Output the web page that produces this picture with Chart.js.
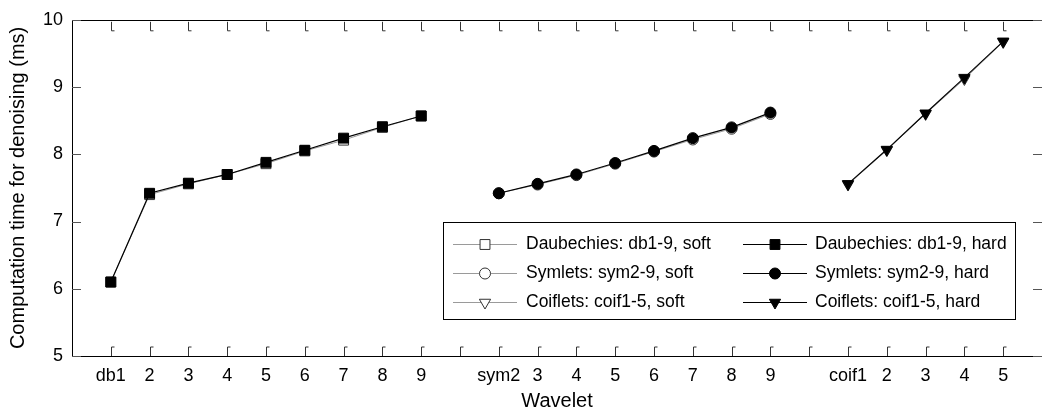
<!DOCTYPE html>
<html lang="en">
<head>
<meta charset="utf-8">
<title>Computation time for denoising</title>
<script src="https://cdn.jsdelivr.net/npm/chart.js@4/dist/chart.umd.min.js"></script>
<style>
  html, body { margin: 0; padding: 0; background: #fff; overflow: hidden; }
  #wrap { width: 1050px; height: 416px; }
</style>
</head>
<body>
<div id="wrap"><canvas id="timing" width="1050" height="416"></canvas></div>
<script>
// wavelet axis labels, the blanks keep the three families apart
const xLabels = ['db1', '2', '3', '4', '5', '6', '7', '8', '9', '',
                 'sym2', '3', '4', '5', '6', '7', '8', '9', '',
                 'coif1', '2', '3', '4', '5'];

// axis slot of the first member of each family
const dbStart = 1;
const symStart = 11;
const coifStart = 20;

// computation time (ms)
const dbSoft = [6.10, 7.40, 7.56, 7.70, 7.86, 8.05, 8.21, 8.40, 8.57];
const dbHard = [6.10, 7.42, 7.57, 7.70, 7.88, 8.06, 8.24, 8.41, 8.57];
const symSoft = [7.42, 7.55, 7.69, 7.86, 8.04, 8.22, 8.38, 8.60];
const symHard = [7.42, 7.56, 7.70, 7.87, 8.05, 8.24, 8.40, 8.62];
const coifSoft = [7.55, 8.06, 8.60, 9.12, 9.67];
const coifHard = [7.56, 8.07, 8.61, 9.14, 9.68];

const yTicks = [5, 6, 7, 8, 9, 10];

const toPoints = (start, values) => values.map((v, i) => ({ x: start + i, y: v }));

const soft = (label, start, values, pointStyle, extra = {}) => ({
    label, data: toPoints(start, values), order: 1,
    borderColor: '#9a9a9a', borderWidth: 1,
    pointStyle, pointRadius: 6, pointBorderColor: '#333', pointBackgroundColor: '#fff', pointBorderWidth: 1,
    ...extra
});
const hard = (label, start, values, pointStyle, extra = {}) => ({
    label, data: toPoints(start, values), order: 0,
    borderColor: '#000', borderWidth: 1.2,
    pointStyle, pointRadius: 6, pointBorderColor: '#000', pointBackgroundColor: '#000', pointBorderWidth: 1,
    ...extra
});

const datasets = [
    soft('Daubechies: db1-9, soft', dbStart, dbSoft, 'rect', { pointRadius: 7 }),
    soft('Symlets: sym2-9, soft', symStart, symSoft, 'circle', { pointRadius: 5.5 }),
    soft('Coiflets: coif1-5, soft', coifStart, coifSoft, 'triangle', { pointRadius: 6.5, pointRotation: 180 }),
    hard('Daubechies: db1-9, hard', dbStart, dbHard, 'rect', { pointRadius: 7 }),
    hard('Symlets: sym2-9, hard', symStart, symHard, 'circle', { pointRadius: 5.5 }),
    hard('Coiflets: coif1-5, hard', coifStart, coifHard, 'triangle', { pointRadius: 6.5, pointRotation: 180 }),
];

// closed box with inward ticks on all four sides
const boxAxes = {
    id: 'boxAxes',
    beforeDatasetsDraw(chart) {
        const { ctx, chartArea: a, scales: { x, y } } = chart;
        ctx.save();
        ctx.strokeStyle = '#000';
        ctx.lineWidth = 1;
        ctx.strokeRect(Math.round(a.left) + 0.5, Math.round(a.top) + 0.5,
            Math.round(a.right - a.left), Math.round(a.bottom - a.top));
        ctx.strokeStyle = '#333';
        x.ticks.forEach(t => {
            const px = Math.round(x.getPixelForValue(t.value)) + 0.5;
            ctx.beginPath();
            ctx.moveTo(px, a.bottom);
            ctx.lineTo(px, a.bottom - 9);
            ctx.lineTo(px + 3, a.bottom - 9);
            ctx.moveTo(px, a.top + 2);
            ctx.lineTo(px, a.top + 11);
            ctx.lineTo(px + 3, a.top + 11);
            ctx.stroke();
        });
        ctx.strokeStyle = '#555';
        y.ticks.forEach(t => {
            const py = Math.round(y.getPixelForValue(t.value)) + 0.5;
            ctx.beginPath();
            ctx.moveTo(a.left, py);
            ctx.lineTo(a.left + 9, py);
            ctx.moveTo(a.right - 9, py);
            ctx.lineTo(a.right, py);
            ctx.stroke();
        });
        ctx.restore();
    }
};

// two-column legend box inside the plot
const boxLegend = {
    id: 'boxLegend',
    afterDatasetsDraw(chart) {
        const ctx = chart.ctx;
        const ds = chart.data.datasets;
        const box = { left: 443, top: 222, width: 572, height: 97 };
        const rows = [244, 273, 302];
        const cols = [
            { from: 453, to: 517, text: 526 },
            { from: 743, to: 807, text: 815 }
        ];
        ctx.save();
        ctx.fillStyle = '#fff';
        ctx.fillRect(box.left, box.top, box.width, box.height);
        ctx.strokeStyle = '#000';
        ctx.lineWidth = 1;
        ctx.strokeRect(box.left + 0.5, box.top + 0.5, box.width, box.height);
        ds.forEach((d, i) => {
            const col = cols[Math.floor(i / 3)];
            const yy = rows[i % 3] + 0.5;
            ctx.strokeStyle = d.borderColor;
            ctx.lineWidth = d.borderWidth;
            ctx.beginPath();
            ctx.moveTo(col.from, yy);
            ctx.lineTo(col.to, yy);
            ctx.stroke();
            ctx.fillStyle = d.pointBackgroundColor;
            ctx.strokeStyle = d.pointBorderColor;
            ctx.lineWidth = d.pointBorderWidth;
            Chart.helpers.drawPoint(ctx, {
                pointStyle: d.pointStyle,
                radius: d.pointRadius,
                rotation: d.pointRotation || 0,
                borderWidth: d.pointBorderWidth
            }, (col.from + col.to) / 2, yy);
            ctx.fillStyle = '#000';
            ctx.font = '17.5px "Liberation Sans", Arial, sans-serif';
            ctx.textBaseline = 'middle';
            ctx.textAlign = 'left';
            ctx.fillText(d.label, col.text, yy);
        });
        ctx.restore();
    }
};

Chart.defaults.font.family = '"Liberation Sans", Arial, sans-serif';
Chart.defaults.font.size = 18;
Chart.defaults.color = '#000';

new Chart(document.getElementById('timing'), {
    type: 'line',
    data: { datasets },
    options: {
        responsive: false,
        animation: false,
        devicePixelRatio: 1,
        layout: { padding: { left: 0, right: 4, top: 15, bottom: 0 } },
        plugins: { legend: { display: false }, tooltip: { enabled: false } },
        scales: {
            x: {
                type: 'linear',
                min: 0,
                max: xLabels.length + 1,
                afterBuildTicks: s => { s.ticks = xLabels.map((_, i) => ({ value: i + 1 })); },
                afterFit: s => { s.height = 60; },
                grid: { display: false, drawTicks: false },
                border: { display: false },
                ticks: {
                    autoSkip: false,
                    maxRotation: 0,
                    padding: 9,
                    callback: (v, i) => xLabels[i]
                },
                title: { display: true, text: 'Wavelet', font: { size: 20 }, padding: { top: 0, bottom: 3 } }
            },
            y: {
                min: 5,
                max: 10,
                afterBuildTicks: s => { s.ticks = yTicks.map(v => ({ value: v })); },
                afterFit: s => { s.width = 72; },
                grid: { display: false, drawTicks: false },
                border: { display: false },
                ticks: { padding: 9 },
                title: { display: true, text: 'Computation time for denoising (ms)', font: { size: 20 }, padding: { top: 6, bottom: 0 } }
            }
        }
    },
    plugins: [boxAxes, boxLegend]
});
</script>
</body>
</html>
